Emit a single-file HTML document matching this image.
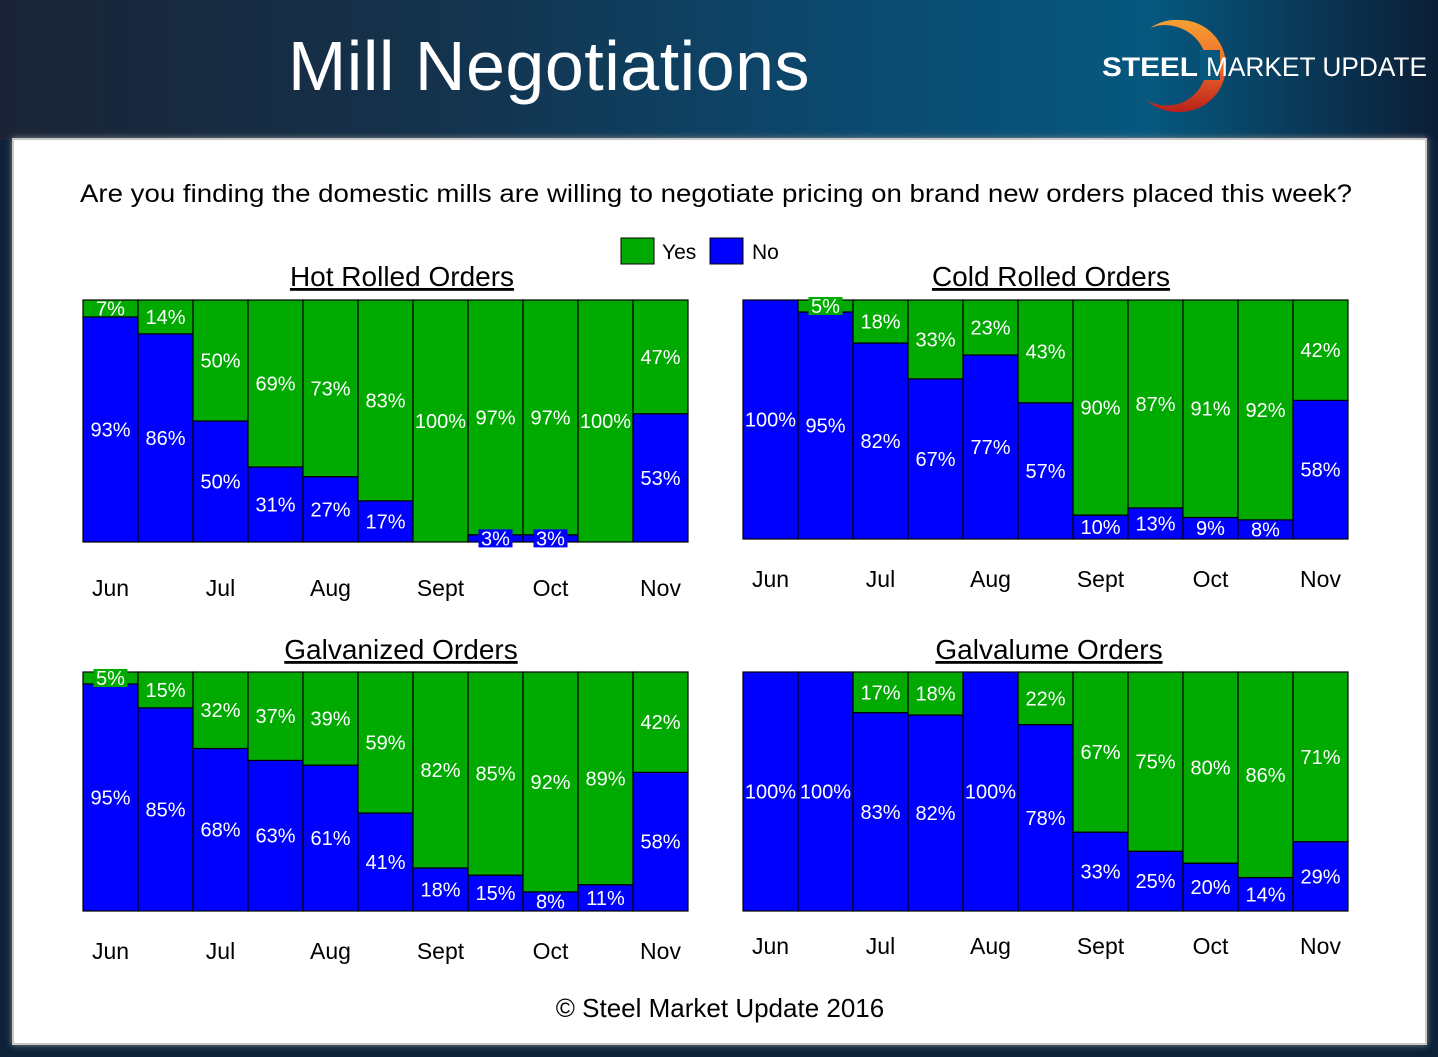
<!DOCTYPE html>
<html><head><meta charset="utf-8"><style>
body{margin:0;width:1438px;height:1057px;overflow:hidden;font-family:"Liberation Sans",sans-serif;background:#0d2238}
#hdr{position:absolute;left:0;top:0;width:1438px;height:140px;background:linear-gradient(90deg,#1a2436 0%,#14324c 30%,#0b4a70 60%,#06587f 80%,#0c1e36 100%)}
#panel{position:absolute;left:12px;top:138px;width:1411px;height:903px;background:#fff;border:2px solid #c8c8c8;box-shadow:0 0 6px #888}
</style></head><body>
<div id="hdr">
<div style="position:absolute;left:288px;top:26px;color:#fff;font-size:70px;letter-spacing:0.5px;">Mill Negotiations</div>
<svg style="position:absolute;left:1100px;top:10px" width="335" height="110">
<defs><linearGradient id="lg" x1="0" y1="0" x2="0" y2="1"><stop offset="0" stop-color="#f6a032"/><stop offset="0.5" stop-color="#ee6a2a"/><stop offset="1" stop-color="#b8201a"/></linearGradient></defs>
<path d="M50 18 A48 48 0 0 1 80 10 A46 46 0 0 1 80 102 A48 48 0 0 1 46 90 A42 42 0 0 0 78 94 A40 40 0 0 0 80 18 A40 40 0 0 0 50 18Z" fill="url(#lg)"/>
<rect x="100" y="40" width="20" height="30" fill="#06587f"/>
<text x="2" y="66" fill="#fff" font-size="27" font-weight="bold" font-family="Liberation Sans" textLength="96" lengthAdjust="spacingAndGlyphs">STEEL</text>
<text x="106" y="66" fill="#fff" font-size="27" font-family="Liberation Sans" textLength="221" lengthAdjust="spacingAndGlyphs">MARKET UPDATE</text>
</svg>
</div>
<div id="panel"></div>
<svg id="ch" width="1438" height="1057" style="position:absolute;left:0;top:0" font-family="Liberation Sans, sans-serif">
<text x="80" y="202" font-size="25" fill="#000" textLength="1272" lengthAdjust="spacingAndGlyphs">Are you finding the domestic mills are willing to negotiate pricing on brand new orders placed this week?</text>
<rect x="621" y="238" width="33" height="26" fill="#00aa00" stroke="#000"/>
<text x="662" y="259" font-size="21">Yes</text>
<rect x="710" y="238" width="33" height="26" fill="#0000ff" stroke="#000"/>
<text x="752" y="259" font-size="21">No</text>
<text x="720" y="1017" text-anchor="middle" font-size="26">© Steel Market Update 2016</text>
</svg>
<script>
const months=["Jun","Jul","Aug","Sept","Oct","Nov"];
const hrYes=[7,14,50,69,73,83,100,97,97,100,47];
const hrNo=[93,86,50,31,27,17,0,3,3,0,53];
const crYes=[0,5,18,33,23,43,90,87,91,92,42];
const crNo=[100,95,82,67,77,57,10,13,9,8,58];
const gvYes=[5,15,32,37,39,59,82,85,92,89,42];
const gvNo=[95,85,68,63,61,41,18,15,8,11,58];
const glYes=[0,0,17,18,0,22,67,75,80,86,71];
const glNo=[100,100,83,82,100,78,33,25,20,14,29];
const charts=[
 {title:"Hot Rolled Orders",name:"hot-rolled",x:83,y:300,w:605,h:242,tx:402,ty:286,my:596,yes:hrYes,no:hrNo},
 {title:"Cold Rolled Orders",name:"cold-rolled",x:743,y:300,w:605,h:239,tx:1051,ty:286,my:587,yes:crYes,no:crNo},
 {title:"Galvanized Orders",name:"galvanized",x:83,y:672,w:605,h:239,tx:401,ty:659,my:959,yes:gvYes,no:gvNo},
 {title:"Galvalume Orders",name:"galvalume",x:743,y:672,w:605,h:239,tx:1049,ty:659,my:954,yes:glYes,no:glNo}];
const svg=document.getElementById('ch');const NS="http://www.w3.org/2000/svg";
function mk(t,a,p){const e=document.createElementNS(NS,t);for(const k in a)e.setAttribute(k,a[k]);(p||svg).appendChild(e);return e;}
charts.forEach(c=>{
 const g=mk('g',{});
 
 
 const n=c.yes.length,bw=c.w/n;
 const yS=v=>c.h*v/100;
 const t=mk('text',{x:c.tx,y:c.ty,'text-anchor':'middle','font-size':28,'text-decoration':'underline'},g);t.textContent=c.title;
 
 
 for(let i=0;i<n;i++){
  const x=c.x+i*bw,bot=c.y+c.h;
  const nh=yS(c.no[i]),yh=yS(c.yes[i]);
  const segs=[[c.no[i],bot-nh,nh,'#0000ff','no'],[c.yes[i],bot-nh-yh,yh,'#00aa00','yes']];
  segs.forEach(s=>{
   if(s[0]<=0)return;
   const r=mk('rect',{x:x,y:s[1],width:bw,height:s[2],fill:s[3],stroke:'#000','stroke-width':1.2},g);
   
   
  });
  segs.forEach(s=>{
   if(s[0]<=0)return;
   const cy=s[1]+s[2]/2;
   if(s[0]<6){mk('rect',{x:x+bw/2-17,y:cy-9,width:34,height:18,fill:s[3]},g);}
   const l=mk('text',{x:x+bw/2,y:cy+7,'text-anchor':'middle','font-size':20,fill:'#fff'},g);
   l.textContent=s[0]+'%';
   
   
  });
 }
 months.forEach((m,j)=>{
  const l=mk('text',{x:c.x+(2*j+0.5)*bw,y:c.my,'text-anchor':'middle','font-size':23},g);l.textContent=m;
  
  
 });
});
</script>
</body></html>
